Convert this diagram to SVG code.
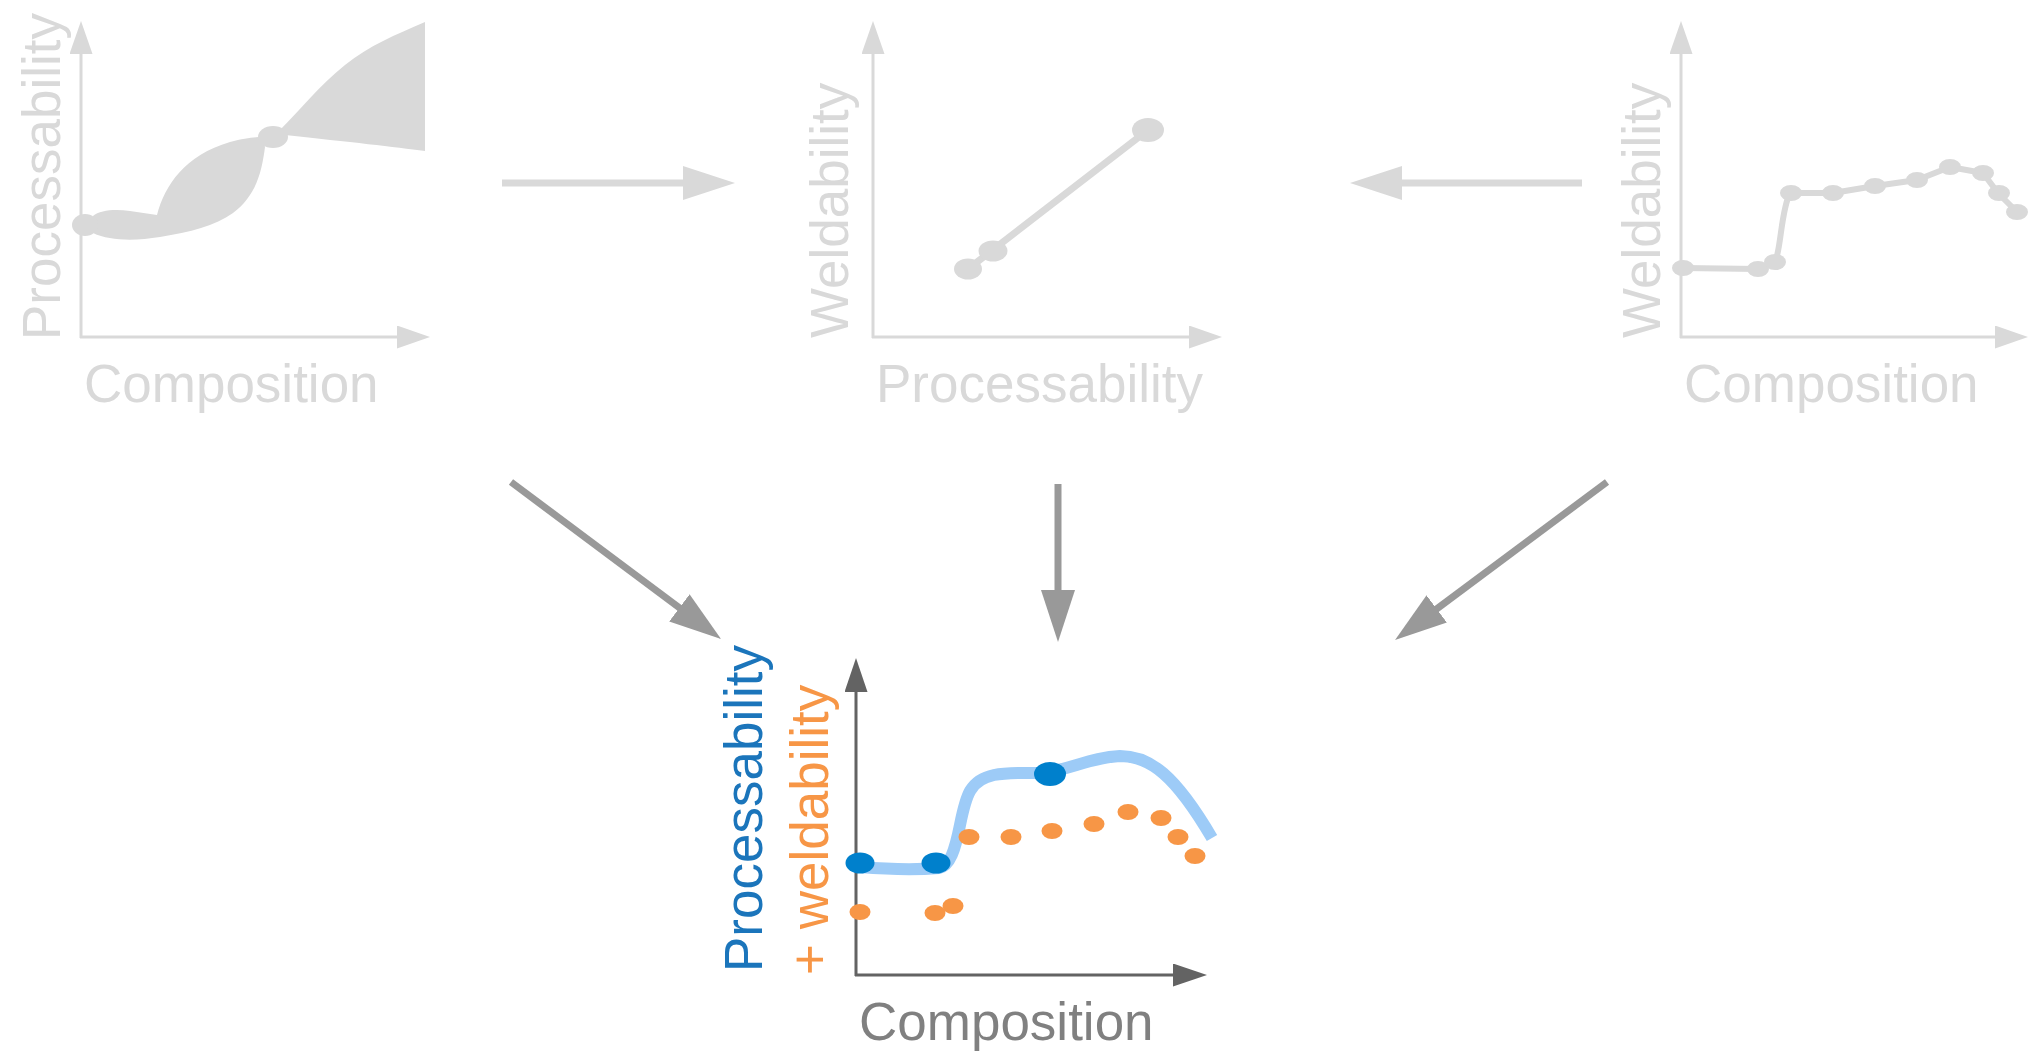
<svg xmlns="http://www.w3.org/2000/svg" width="2029" height="1056" viewBox="0 0 2029 1056">
<style>
.lt{font-family:"Liberation Sans",Arial,sans-serif;font-size:53px;fill:#d9d9d9}
.lg{fill:#d9d9d9}
.ax{stroke:#d9d9d9;stroke-width:3;fill:none}
.axd{stroke:#636363;stroke-width:3;fill:none}
.conL{stroke:#d9d9d9;stroke-width:7;fill:none}
.conD{stroke:#999999;stroke-width:7;fill:none}
.od{fill:#f79646}
.bd{fill:#0080cc}
</style>
<defs>
<marker id="axL" markerUnits="userSpaceOnUse" markerWidth="34" markerHeight="24" refX="8" refY="11.5" orient="auto"><path d="M0,0 L33,11.5 L0,23 Z" fill="#d9d9d9"/></marker>
<marker id="axD" markerUnits="userSpaceOnUse" markerWidth="35" markerHeight="24" refX="8" refY="11.5" orient="auto"><path d="M0,0 L34,11.5 L0,23 Z" fill="#636363"/></marker>
<marker id="arL" markerUnits="userSpaceOnUse" markerWidth="53" markerHeight="35" refX="10" refY="17" orient="auto"><path d="M0,0 L52,17 L0,34 Z" fill="#d9d9d9"/></marker>
<marker id="arD" markerUnits="userSpaceOnUse" markerWidth="53" markerHeight="35" refX="10" refY="17" orient="auto"><path d="M0,0 L52,17 L0,34 Z" fill="#999999"/></marker>
</defs>
<rect width="2029" height="1056" fill="#ffffff"/>

<g id="panel-processability">
<path class="ax" d="M81,338 L81,46" marker-end="url(#axL)"/>
<path class="ax" d="M80,337 L405,337" marker-end="url(#axL)"/>
<path class="lg" d="M93,216 C100,210 115,209 130,211 L157,215 C165,185 185,155 230,142 C245,138 255,137 262,137 L265,147 C262,170 257,195 233,213 C215,226 190,232 160,237 C135,241 110,241 93,233 Z"/>
<path class="lg" d="M280,130 C300,110 320,85 345,65 C370,45 395,35 425,22 L425,151 C395,147 350,142 285,135 Z"/>
<ellipse class="lg" cx="85" cy="225" rx="13" ry="11"/>
<ellipse class="lg" cx="273" cy="137" rx="15" ry="11"/>
<text class="lt" transform="translate(60,340) rotate(-90)">Processability</text>
<text class="lt" x="84" y="402">Composition</text>
</g>

<g id="panel-weld-vs-proc">
<path class="ax" d="M873,338 L873,46" marker-end="url(#axL)"/>
<path class="ax" d="M872,337 L1197,337" marker-end="url(#axL)"/>
<path d="M968,269 L1148,130" stroke="#d9d9d9" stroke-width="7" fill="none"/>
<ellipse class="lg" cx="968" cy="269" rx="14" ry="10.5"/>
<ellipse class="lg" cx="993" cy="251" rx="14.5" ry="10.5"/>
<ellipse class="lg" cx="1148" cy="130" rx="16" ry="12"/>
<text class="lt" transform="translate(848,338) rotate(-90)">Weldability</text>
<text class="lt" x="876" y="402">Processability</text>
</g>

<g id="panel-weldability">
<path class="ax" d="M1681,338 L1681,46" marker-end="url(#axL)"/>
<path class="ax" d="M1680,337 L2003,337" marker-end="url(#axL)"/>
<path d="M1683,268 L1758,269 L1775,262 C1781,250 1781,210 1790,193 L1833,193 L1875,186 L1917,180 L1950,167 L1983,173 L1998,193 L2017,212" stroke="#d9d9d9" stroke-width="6" fill="none" stroke-linejoin="round"/>
<g class="lg">
<ellipse cx="1683" cy="268" rx="11" ry="8"/>
<ellipse cx="1758" cy="269" rx="11" ry="8"/>
<ellipse cx="1775" cy="262" rx="11" ry="8"/>
<ellipse cx="1791" cy="193" rx="11" ry="8"/>
<ellipse cx="1833" cy="193" rx="11" ry="8"/>
<ellipse cx="1875" cy="186" rx="11" ry="8"/>
<ellipse cx="1917" cy="180" rx="11" ry="8"/>
<ellipse cx="1950" cy="167" rx="11" ry="8"/>
<ellipse cx="1983" cy="173" rx="11" ry="8"/>
<ellipse cx="1999" cy="193" rx="11" ry="8"/>
<ellipse cx="2017" cy="212" rx="11" ry="8"/>
</g>
<text class="lt" transform="translate(1660,338) rotate(-90)">Weldability</text>
<text class="lt" x="1684" y="402">Composition</text>
</g>

<g id="panel-combined">
<path class="axd" d="M856,976 L856,684" marker-end="url(#axD)"/>
<path class="axd" d="M855,975 L1181,975" marker-end="url(#axD)"/>
<path d="M860,867 C885,869 915,870 939,868 C950,866 955,850 960,825 C966,795 970,780 994,775 C1010,772 1030,773 1046,773 C1075,767 1095,757 1120,756 C1150,756 1175,775 1212,838" stroke="#9dcbf7" stroke-width="12" fill="none"/>
<g class="od">
<ellipse cx="860" cy="912" rx="10.5" ry="8"/>
<ellipse cx="935" cy="913" rx="10.5" ry="8"/>
<ellipse cx="953" cy="906" rx="10.5" ry="8"/>
<ellipse cx="969" cy="837" rx="10.5" ry="8"/>
<ellipse cx="1011" cy="837" rx="10.5" ry="8"/>
<ellipse cx="1052" cy="831" rx="10.5" ry="8"/>
<ellipse cx="1094" cy="824" rx="10.5" ry="8"/>
<ellipse cx="1128" cy="812" rx="10.5" ry="8"/>
<ellipse cx="1161" cy="818" rx="10.5" ry="8"/>
<ellipse cx="1178" cy="837" rx="10.5" ry="8"/>
<ellipse cx="1195" cy="856" rx="10.5" ry="8"/>
</g>
<g class="bd">
<ellipse cx="860" cy="863" rx="14.5" ry="10.5"/>
<ellipse cx="936" cy="863" rx="14.5" ry="10.5"/>
<ellipse cx="1050" cy="774" rx="16" ry="12"/>
</g>
<text transform="translate(762,972) rotate(-90)" font-family="Liberation Sans, Arial, sans-serif" font-size="53" fill="#1b75bb">Processability</text>
<text transform="translate(828,975) rotate(-90)" font-family="Liberation Sans, Arial, sans-serif" font-size="53" fill="#f79646">+ weldability</text>
<text x="859" y="1040" font-family="Liberation Sans, Arial, sans-serif" font-size="53" fill="#808080">Composition</text>
</g>

<g id="connectors">
<path class="conL" d="M502,183 L693,183" marker-end="url(#arL)"/>
<path class="conL" d="M1582,183 L1392,183" marker-end="url(#arL)"/>
<path class="conD" d="M511,482 L687.4,613.8" marker-end="url(#arD)"/>
<path class="conD" d="M1058,484 L1058,600" marker-end="url(#arD)"/>
<path class="conD" d="M1607,482 L1428.7,614.9" marker-end="url(#arD)"/>
</g>
</svg>
